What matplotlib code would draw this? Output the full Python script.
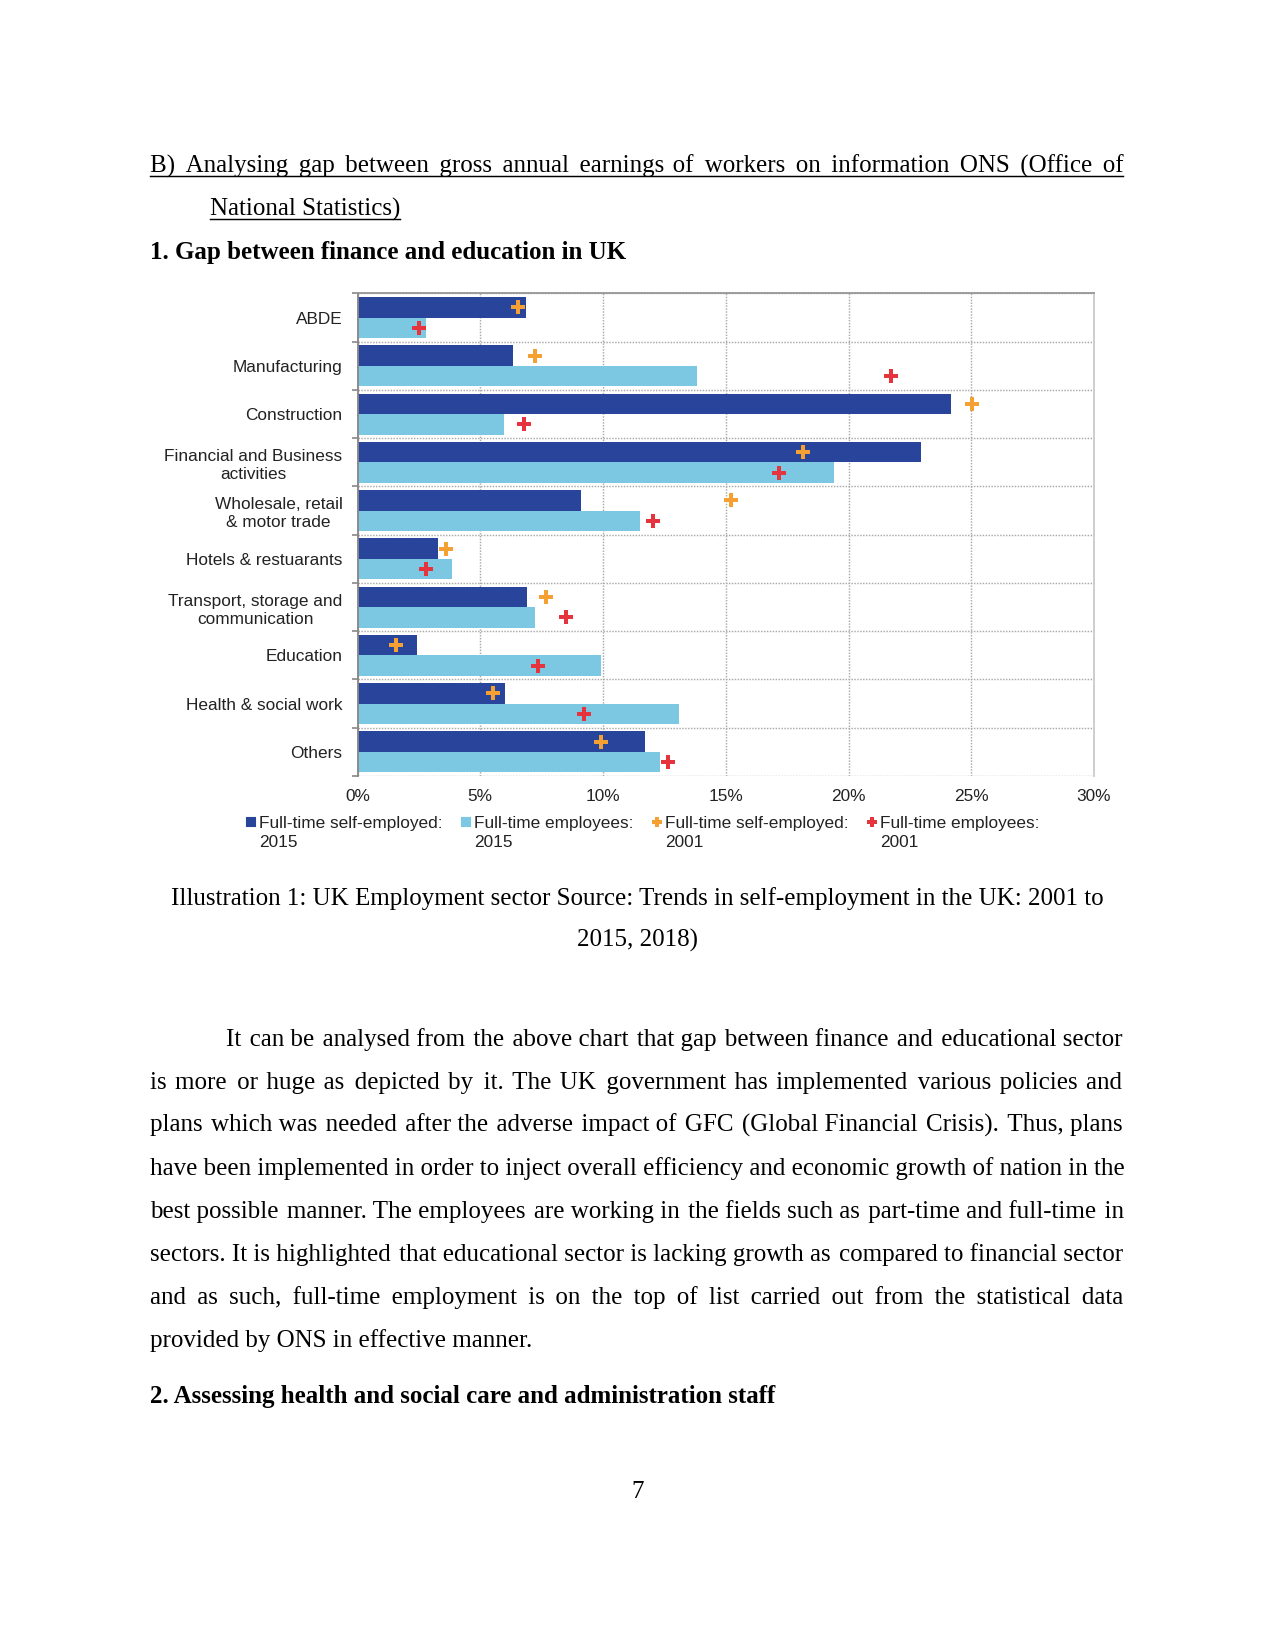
import numpy as np
import matplotlib
matplotlib.use("Agg")
import matplotlib.pyplot as plt
from matplotlib.lines import Line2D
from matplotlib.font_manager import FontProperties

# ---- chart data (share of workers by sector, %) ----
sectors = ["ABDE", "Manufacturing", "Construction", "Financial and Business\nactivities",
           "Wholesale, retail\n& motor trade", "Hotels & restuarants",
           "Transport, storage and\ncommunication", "Education", "Health & social work", "Others"]
self_emp_2015 = [6.85, 6.33, 24.16, 22.95, 9.11, 3.29, 6.91, 2.44, 6.01, 11.73]
employees_2015 = [2.77, 13.83, 5.95, 19.40, 11.52, 3.85, 7.21, 9.91, 13.10, 12.31]
self_emp_2001 = [6.52, 7.25, 25.03, 18.16, 15.23, 3.62, 7.67, 1.58, 5.50, 9.92]
employees_2001 = [2.52, 21.73, 6.77, 17.17, 12.02, 2.78, 8.50, 7.35, 9.22, 12.66]
xticks = [0, 5, 10, 15, 20, 25, 30]
legend_labels = ["Full-time self-employed:", "Full-time employees:",
                 "Full-time self-employed:", "Full-time employees:"]
legend_years = ["2015", "2015", "2001", "2001"]

# ---- page text ----
header1 = "B) Analysing gap between gross annual earnings of workers on information ONS (Office of"
header2 = "National Statistics)"
heading1 = "1. Gap between finance and education in UK"
caption = ["Illustration 1: UK Employment sector Source: Trends in self-employment in the UK: 2001 to",
           "2015, 2018)"]
paragraph = [
    "It can be analysed from the above chart that gap between finance and educational sector",
    "is more or huge as depicted by it. The UK government has implemented various policies and",
    "plans which was needed after the adverse impact of GFC (Global Financial Crisis). Thus, plans",
    "have been implemented in order to inject overall efficiency and economic growth of nation in the",
    "best possible manner. The employees are working in the fields such as part-time and full-time in",
    "sectors. It is highlighted that educational sector is lacking growth as compared to financial sector",
    "and as such, full-time employment is on the top of list carried out from the statistical data",
    "provided by ONS in effective manner.",
]
heading2 = "2. Assessing health and social care and administration staff"

dark = "#28459b"
light = "#7cc8e2"
orange = "#f5a033"
red = "#e5343e"
chart_fs = 8.3
sans = FontProperties(family="Liberation Sans", size=chart_fs)

W, H = 1275, 1650
fig = plt.figure(figsize=(8.5, 11), dpi=150)
fig.patch.set_facecolor("white")


def fx(x):
    return x / W


def fy(y):
    return 1 - y / H


# ---------------- chart ----------------
ax = fig.add_axes([fx(357.5), fy(776), (1094 - 357.5) / W, (776 - 293.5) / H])
y = np.arange(len(sectors))
h = 0.425
ax.barh(y - h / 2, self_emp_2015, height=h, color=dark, zorder=2)
ax.barh(y + h / 2, employees_2015, height=h, color=light, zorder=2)
ax.plot(self_emp_2001, y - h / 2, ls="none", marker="P", ms=6.5, color=orange, mew=0, zorder=3)
ax.plot(employees_2001, y + h / 2, ls="none", marker="P", ms=6.5, color=red, mew=0, zorder=3)

ax.set_xlim(0, 30)
ax.set_ylim(len(sectors) - 0.5, -0.5)
ax.set_xticks(xticks)
ax.set_xticklabels([f"{v}%" for v in xticks], fontproperties=sans, color="#222")
ax.set_yticks(y)
ax.set_yticklabels(sectors, fontproperties=sans, color="#222", multialignment="center",
                   linespacing=1.25)
ax.set_yticks(np.arange(-0.5, len(sectors), 1), minor=True)
ax.tick_params(axis="y", which="major", length=0, pad=7.2)
ax.tick_params(axis="y", which="minor", length=3, color="#888", width=0.8)
ax.tick_params(axis="x", length=0, pad=6.4)
ax.grid(axis="x", ls=(0, (1, 1)), color="#aaa", lw=0.7, zorder=0)
ax.grid(axis="y", which="minor", ls=(0, (1, 1)), color="#aaa", lw=0.7, zorder=0)
ax.set_axisbelow(True)
ax.spines["left"].set_color("#888")
ax.spines["top"].set_color("#999")
ax.spines["right"].set_color("#ccc")
ax.spines["bottom"].set_visible(False)
for s in ["left", "top", "right"]:
    ax.spines[s].set_linewidth(0.9)

handles = [Line2D([], [], ls="none", marker="s", ms=4.2, color=dark),
           Line2D([], [], ls="none", marker="s", ms=4.2, color=light),
           Line2D([], [], ls="none", marker="P", ms=5.2, mew=0, color=orange),
           Line2D([], [], ls="none", marker="P", ms=5.2, mew=0, color=red)]
leg = fig.legend(handles, legend_labels, ncol=4, loc="upper left",
                 bbox_to_anchor=(fx(246.3), fy(816)), frameon=False, prop=sans,
                 handlelength=0.6, handletextpad=0.13, columnspacing=1.09,
                 borderaxespad=0, borderpad=0)
for t in leg.get_texts():
    t.set_color("#222")

renderer = fig.canvas.get_renderer()
fig.canvas.draw()
_, _, lp_d = renderer.get_text_width_height_descent("lp", sans, ismath=False)
for t, yr in zip(leg.get_texts(), legend_years):
    bb = t.get_window_extent(renderer)
    base = bb.y0 + lp_d - 18.5
    fig.text(bb.x0 / W, base / H, yr, fontproperties=sans, color="#222",
             va="baseline", ha="left")

# ---------------- page text ----------------
serif = {"family": ["Liberation Serif", "DejaVu Serif"], "size": 12}


def text_width(s, **kw):
    t = fig.text(0, 0, s, **kw)
    w = t.get_window_extent(renderer).width
    t.remove()
    return w


# spacers built from normal, thin and hair spaces, so a justified line stays one text
ref_w = text_width("ll", **serif)
sp_w = {ch: text_width("l" + ch + "l", **serif) - ref_w for ch in [" ", "\u2009", "\u200a"]}
spacers = []
for a in range(1, 4):
    for b in range(0, 4):
        for c in range(0, 5):
            spacers.append((a * sp_w[" "] + b * sp_w["\u2009"] + c * sp_w["\u200a"],
                            " " * a + "\u2009" * b + "\u200a" * c))


def justified(line, x0, x1, ybase, **kw):
    words = line.split()
    widths = [text_width(w, **kw) for w in words]
    gap = (x1 - x0 - sum(widths)) / (len(words) - 1)
    s = words[0]
    ideal = widths[0]
    for w, wd in zip(words[1:], widths[1:]):
        ideal += gap
        need = ideal - text_width(s, **kw)
        sw, sp = min(spacers, key=lambda p: abs(p[0] - need))
        s += sp + w
        ideal += wd
    fig.text(fx(x0), fy(ybase), s, va="baseline", ha="left", **kw)


def underline(x0, x1, yy):
    fig.add_artist(Line2D([fx(x0), fx(x1)], [fy(yy), fy(yy)], color="black", lw=0.7))


justified(header1, 150, 1123, 173, **serif)
underline(150, 1123, 176)
fig.text(fx(210), fy(216), header2, va="baseline", ha="left", **serif)
underline(210, 210 + text_width(header2, **serif), 219)
fig.text(fx(150), fy(259), heading1, va="baseline", ha="left", weight="bold", **serif)

fig.text(fx(637.5), fy(905), caption[0], va="baseline", ha="center", **serif)
fig.text(fx(637.5), fy(947), caption[1], va="baseline", ha="center", **serif)

base = 1046
for i, line in enumerate(paragraph):
    yb = base + 43 * i
    x0 = 226 if i == 0 else 150
    if i < len(paragraph) - 1:
        justified(line, x0, 1123, yb, **serif)
    else:
        fig.text(fx(x0), fy(yb), line, va="baseline", ha="left", **serif)

fig.text(fx(150), fy(1403), heading2, va="baseline", ha="left", weight="bold", **serif)
fig.text(fx(637.5), fy(1498), "7", va="baseline", ha="center", **serif)

fig.savefig("out.png", dpi=150, facecolor="white")
